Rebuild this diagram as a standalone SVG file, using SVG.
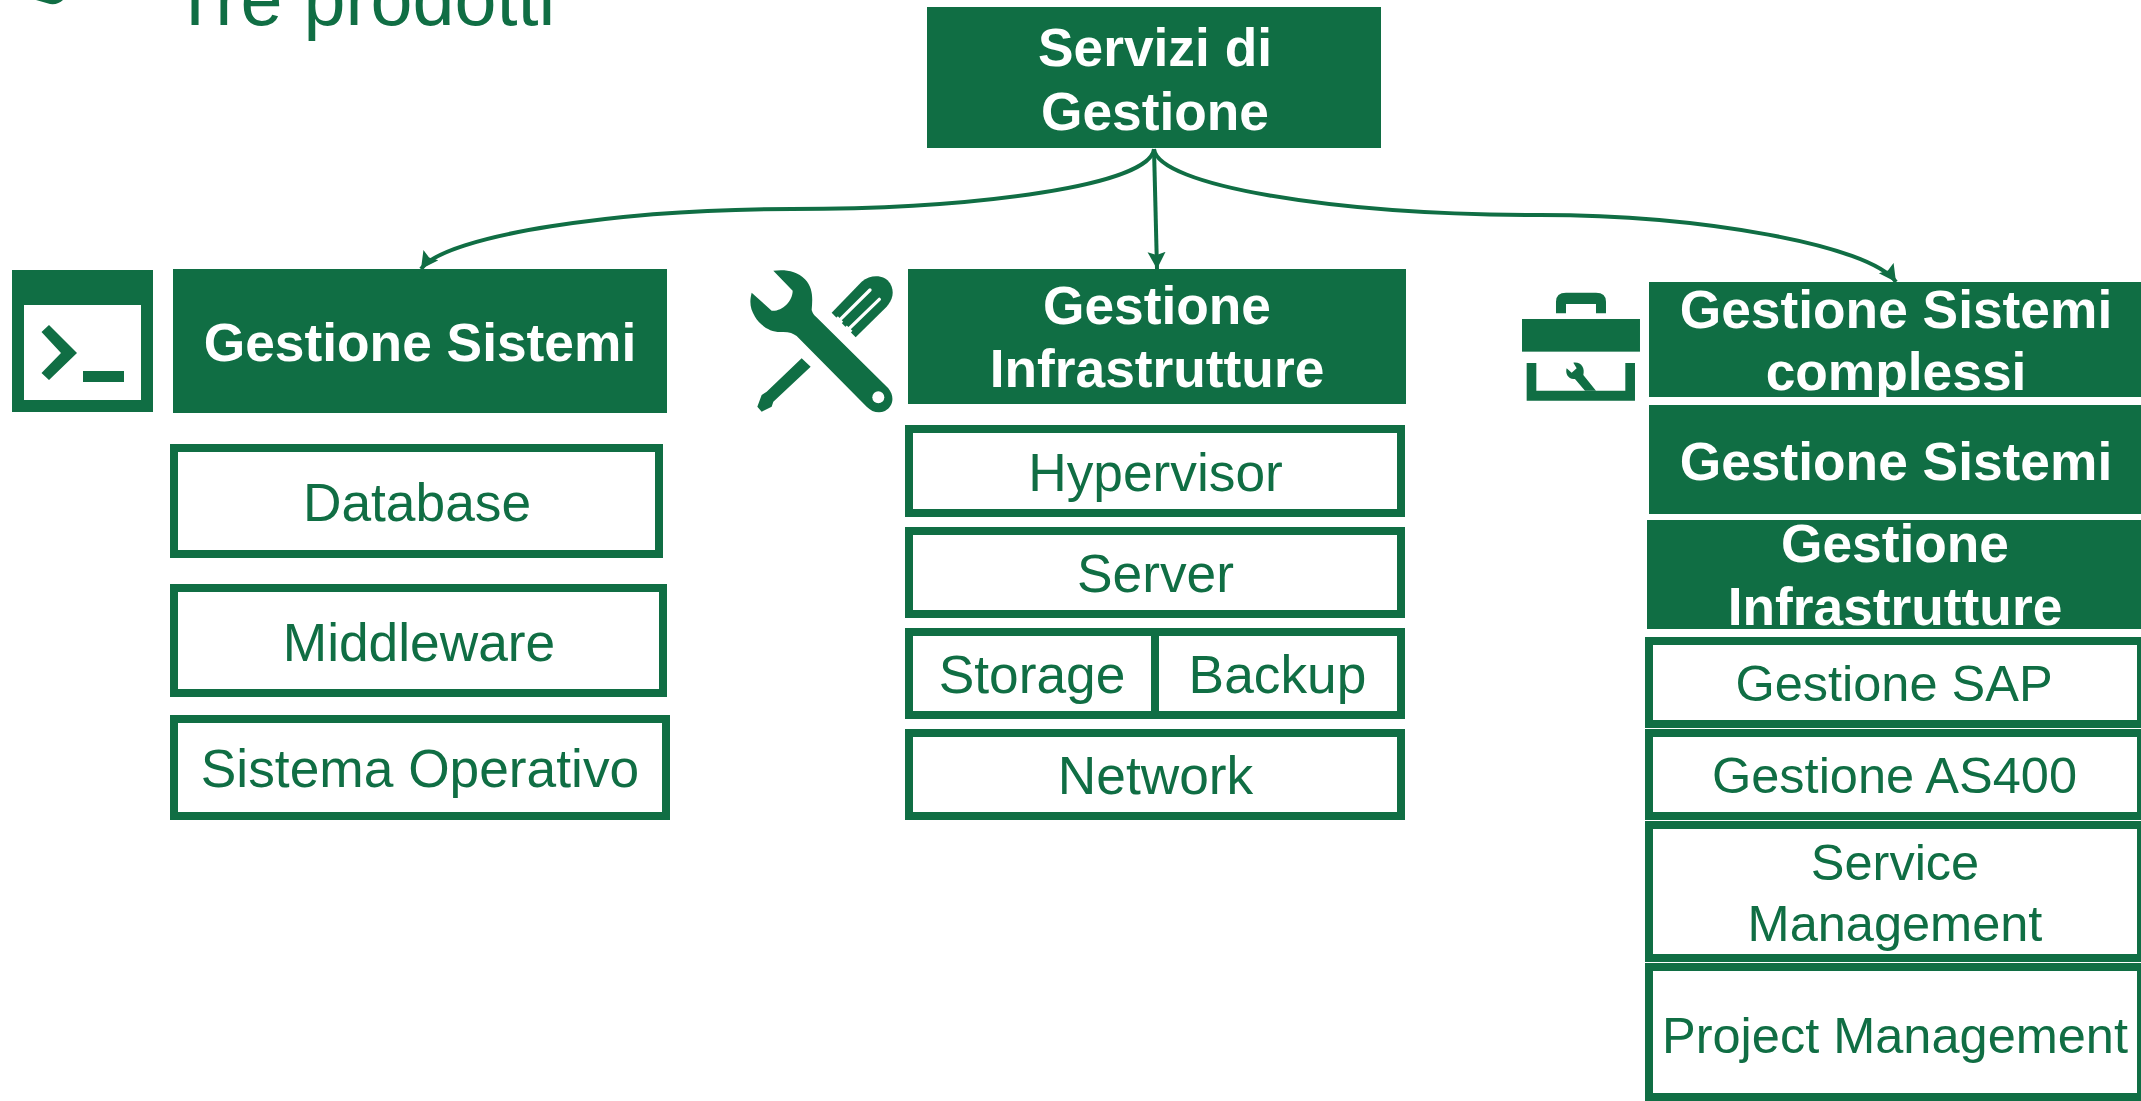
<svg xmlns="http://www.w3.org/2000/svg" width="2141" height="1101" viewBox="0 0 2141 1101">
<style>
text{font-family:"Liberation Sans",Arial,sans-serif;font-size:53.3px;text-anchor:middle}
.h{fill:#106e44}
.ht{fill:#fff;font-weight:bold}
.b{fill:#fff;stroke:#106e44;stroke-width:8}
.bt{fill:#106e44}
.bs{fill:#106e44;font-size:50.500px}
.c{fill:none;stroke:#106e44;stroke-width:4}
</style>
<defs>
<marker id="arrow" markerUnits="userSpaceOnUse" markerWidth="20" markerHeight="20" refX="17" refY="9" orient="auto">
<path d="M0,0L17,9L0,18L3,9Z" fill="#106e44"/>
</marker>
</defs>
<rect width="2141" height="1101" fill="#fff"/>
<g id="title">
<path d="M36,0H63Q58,5 50,4Z" fill="#106e44"/>
<text x="172" y="25" style="font-size:75.500px;text-anchor:start" class="bt">Tre prodotti</text>
</g>
<g id="connectors">
<path class="c" marker-end="url(#arrow)" d="M1154,149C1150,185 980,209 792,209C620,209 445,235 421,269"/>
<path class="c" marker-end="url(#arrow)" d="M1154,149L1157,269"/>
<path class="c" marker-end="url(#arrow)" d="M1154,149C1158,185 1330,215 1540,215C1700,215 1870,245 1896,282"/>
</g>
<g id="root"><rect class="h" x="927" y="7" width="454" height="141"/><text class="ht" x="1155" y="66">Servizi di</text><text class="ht" x="1155" y="130">Gestione</text></g>
<g id="icon-terminal">
<rect class="h" x="12" y="270" width="141" height="142"/>
<rect fill="#fff" x="24" y="305" width="117" height="95"/>
<path class="h" d="M41.500,332L49,325L77,353L49,380L41.500,373L61,353Z"/>
<rect class="h" x="83" y="371" width="41" height="11"/>
</g>
<g id="gestione-sistemi"><rect class="h" x="173" y="269" width="494" height="144"/><text class="ht" x="420" y="361">Gestione Sistemi</text></g>
<g id="database"><rect class="b" x="174" y="448" width="485" height="106"/><text class="bt" x="417" y="521">Database</text></g>
<g id="middleware"><rect class="b" x="174" y="588" width="489" height="105"/><text class="bt" x="419" y="661">Middleware</text></g>
<g id="sistema-operativo"><rect class="b" x="174" y="719" width="492" height="97"/><text class="bt" x="420" y="787">Sistema Operativo</text></g>
<g id="icon-tools" transform="translate(740,260) scale(.3333)">
<path class="h" d="M100,32C130,28 170,30 195,58C220,85 218,115 215,150C218,160 222,165 228,170L445,385C465,410 460,440 435,453C415,462 395,455 380,440L170,228C160,220 145,215 125,216C90,218 60,195 45,170C30,145 28,125 35,98L95,152C125,155 158,125 158,92Z"/>
<circle cx="415" cy="412" r="18" fill="#fff"/>
<path class="h" d="M275,158L365,65C395,40 435,45 450,70C465,95 458,120 440,140L347,232Z"/>
<path d="M298,181L390,90M325,208L418,118" stroke="#fff" stroke-width="10" stroke-linecap="round" fill="none"/>
<path d="M290,172L306,189M317,200L334,216" stroke="#fff" stroke-width="10" fill="none"/>
<path class="h" d="M185,295L212,320L100,425L95,440L65,455L52,440L65,405L80,395Z"/>
</g>
<g id="gestione-infrastrutture"><rect class="h" x="908" y="269" width="498" height="135"/><text class="ht" x="1157" y="324">Gestione</text><text class="ht" x="1157" y="387">Infrastrutture</text></g>
<g id="hypervisor"><rect class="b" x="909" y="429" width="492" height="84"/><text class="bt" x="1155.500" y="491">Hypervisor</text></g>
<g id="server"><rect class="b" x="909" y="531" width="492" height="83"/><text class="bt" x="1155.500" y="592">Server</text></g>
<g id="storage"><rect class="b" x="909" y="632" width="246" height="83"/><text class="bt" x="1032" y="693">Storage</text></g>
<g id="backup"><rect class="b" x="1155" y="632" width="246" height="83"/><text class="bt" x="1277.500" y="693">Backup</text></g>
<g id="network"><rect class="b" x="909" y="733" width="492" height="83"/><text class="bt" x="1155.500" y="794">Network</text></g>
<g id="icon-toolbox" transform="translate(1510,280) scale(.3333)">
<path class="h" d="M138,100V65Q138,38 168,38H258Q288,38 288,65V100H258V72H168V100Z"/>
<rect class="h" x="36" y="117" width="354" height="98"/>
<path class="h" d="M50,249H79V332H346V249H375V362H50Z"/>
<path class="h" d="M190,248C215,245 225,265 220,285L258,332H225L195,297C175,300 165,280 170,265L185,278L200,265Z"/>
</g>
<g id="gestione-sistemi-complessi"><rect class="h" x="1649" y="282" width="492" height="115"/><text class="ht" x="1896" y="328">Gestione Sistemi</text><text class="ht" x="1896" y="390">complessi</text></g>
<g id="gestione-sistemi-2"><rect class="h" x="1649" y="405" width="492" height="109"/><text class="ht" x="1896" y="480">Gestione Sistemi</text></g>
<g id="gestione-infrastrutture-2"><rect class="h" x="1647" y="520" width="494" height="109"/><text class="ht" x="1895" y="562">Gestione</text><text class="ht" x="1895" y="625">Infrastrutture</text></g>
<g id="gestione-sap"><rect class="b" x="1649" y="641" width="492" height="83"/><text class="bs" x="1894" y="701">Gestione SAP</text></g>
<g id="gestione-as400"><rect class="b" x="1649" y="733" width="492" height="83"/><text class="bs" x="1894.500" y="793">Gestione AS400</text></g>
<g id="service-management"><rect class="b" x="1649" y="825" width="492" height="133"/><text class="bs" x="1895" y="880">Service</text><text class="bs" x="1895" y="941">Management</text></g>
<g id="project-management"><rect class="b" x="1649" y="967" width="492" height="130"/><text class="bs" x="1895" y="1053">Project Management</text></g>
</svg>
